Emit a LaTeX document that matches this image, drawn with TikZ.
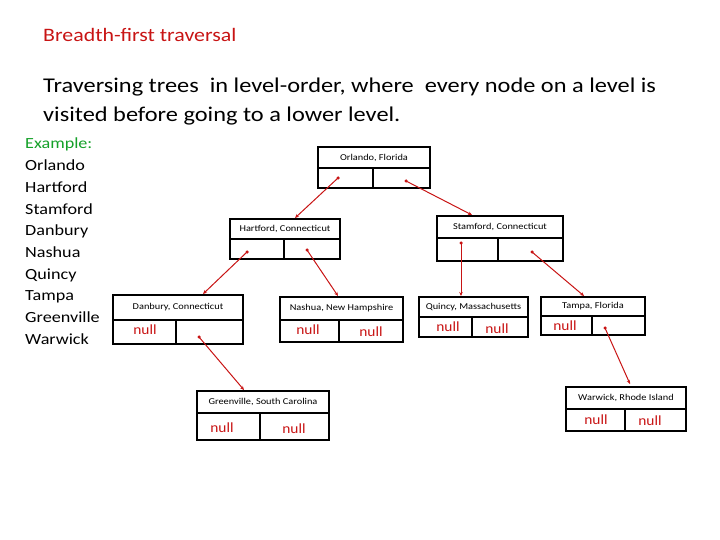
\documentclass[tikz,border=0pt]{standalone}
\usepackage{fontspec}
\setmainfont{Carlito}
\usetikzlibrary{arrows.meta}
\definecolor{tred}{RGB}{200,20,20}
\definecolor{tgreen}{RGB}{20,160,40}
\tikzset{
  boxline/.style={draw=black, line width=1.6pt},
  lbl/.style={font=\fontsize{9}{10}\selectfont, inner sep=0pt, xscale=1.15, transform shape},
  nul/.style={font=\fontsize{14}{15}\selectfont, text=tred, inner sep=0pt, xscale=1.1, transform shape},
  link/.style={draw=tred, line width=1pt, -{Stealth[length=4pt,width=3.5pt]}},
  dot/.style={circle, fill=tred, inner sep=0pt, minimum size=3.5pt}
}
% name, x1, y1, x2, y2, rowy, vertx, label
\newcommand{\tbox}[8]{%
  \draw[boxline] (#2,#3) rectangle (#4,#5);
  \draw[boxline] (#2,#6) -- (#4,#6);
  \draw[boxline] (#7,#6) -- (#7,#5);
  \node[lbl] (#1) at ({(#2+#4)/2},{(#3+#6)/2}) {#8};
}
\begin{document}
\begin{tikzpicture}[x=1pt,y=-1pt]
\useasboundingbox (0,0) rectangle (720,540);
\node[anchor=west, text=tred, font=\fontsize{19}{22}\selectfont, inner sep=0pt, xscale=1.15, transform shape] (title) at (43,35) {Breadth-first traversal};
\node[anchor=north west, align=left, font=\fontsize{21}{29}\selectfont, inner sep=0pt, xscale=1.16, transform shape] (body) at (43,78) {Traversing trees\ \ in level-order, where\ \ every node on a level is\\visited before going to a lower level.};
\node[anchor=north west, align=left, font=\fontsize{15.5}{21.7}\selectfont, inner sep=0pt, xscale=1.17, transform shape] (list) at (25,138) {\textcolor{tgreen}{Example:}\\Orlando\\Hartford\\Stamford\\Danbury\\Nashua\\Quincy\\Tampa\\Greenville\\Warwick};

\tbox{orl}{318}{147}{430}{188}{168}{373}{Orlando, Florida}
\tbox{har}{230}{219}{340}{259}{239}{284}{Hartford, Connecticut}
\tbox{sta}{437}{216}{563}{261}{238}{498}{Stamford, Connecticut}
\tbox{dan}{113}{295}{243}{344}{320}{176}{Danbury, Connecticut}
\tbox{nas}{280}{297}{403}{342}{320}{339}{Nashua, New Hampshire}
\tbox{qui}{419}{297}{528}{337}{317}{472}{Quincy, Massachusetts}
\tbox{tam}{541}{297}{645}{335}{316}{592}{Tampa, Florida}
\tbox{gre}{197}{391}{329}{440}{413}{260}{Greenville, South Carolina}
\tbox{war}{566}{387}{686}{431}{409}{625}{Warwick, Rhode Island}

\node[nul] (n1) at (145,330) {null};
\node[nul] (n2) at (308,330) {null};
\node[nul] (n3) at (371,332) {null};
\node[nul] (n4) at (448,327) {null};
\node[nul] (n5) at (497,329) {null};
\node[nul] (n6) at (565,326) {null};
\node[nul] (n7) at (222,428) {null};
\node[nul] (n8) at (294,429) {null};
\node[nul] (n9) at (596,420) {null};
\node[nul] (n10) at (650,421) {null};

\coordinate (oL) at (338,178); \coordinate (oR) at (406,181);
\coordinate (hL) at (247,252); \coordinate (hR) at (307,250);
\coordinate (dR) at (199,337);
\coordinate (sL) at (461,243); \coordinate (sR) at (532,252);
\coordinate (tR) at (605,328);
\coordinate (harT) at (295,218); \coordinate (staT) at (472,215);
\coordinate (danT) at (203,294); \coordinate (nasT) at (338,296);
\coordinate (greT) at (244,390); \coordinate (quiT) at (461,296);
\coordinate (tamT) at (584,296); \coordinate (warT) at (630,384);
\foreach \s/\t in {oL/harT, oR/staT, hL/danT, hR/nasT, dR/greT, sL/quiT, sR/tamT, tR/warT}{
  \node[dot] at (\s) {};
  \draw[link] (\s) -- (\t);
}
\end{tikzpicture}
\end{document}
